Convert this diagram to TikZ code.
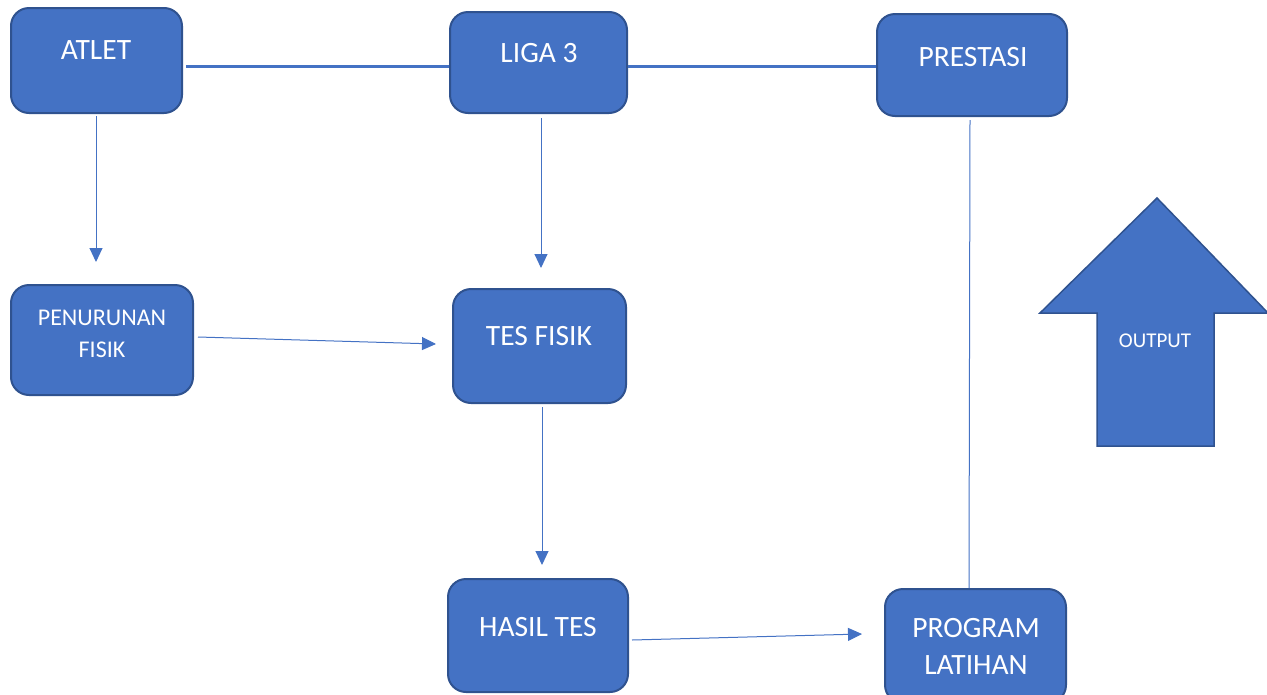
\documentclass[tikz,border=0pt]{standalone}
\usepackage{fontspec}
\setmainfont{Carlito}
\usetikzlibrary{arrows.meta}
\definecolor{accent}{HTML}{4472C4}
\definecolor{edgeblue}{HTML}{2F528F}
\tikzset{
  box/.style={draw=edgeblue, line width=2pt, fill=accent, rounded corners=18pt, inner sep=0pt},
  lbl/.style={text=white, font=\fontsize{29.5}{36}\selectfont, inner sep=0pt},
  lblsmall/.style={text=white, font=\fontsize{24}{32}\selectfont, inner sep=0pt, align=center},
  thickline/.style={draw=accent, line width=3pt},
  thinarrow/.style={draw=accent, line width=1pt, -{Triangle[length=14pt,width=13pt]}},
  thinline/.style={draw=accent, line width=1pt},
}
\begin{document}
\begin{tikzpicture}[x=1pt, y=-1pt]
\useasboundingbox (0,0) rectangle (1267,694);
% boxes
\node[box, minimum width=171pt, minimum height=105pt] (atlet) at (96.5,60.5) {};
\node[box, minimum width=177pt, minimum height=101pt] (liga) at (538.5,62.5) {};
\node[box, minimum width=190pt, minimum height=102pt] (prestasi) at (972,65) {};
\node[box, minimum width=182pt, minimum height=110pt] (penurunan) at (102,340) {};
\node[box, minimum width=173pt, minimum height=114pt] (tes) at (539.5,346) {};
\node[box, minimum width=180pt, minimum height=113pt] (hasil) at (538,635.5) {};
\node[box, minimum width=181pt, minimum height=114pt] (program) at (975.5,646) {};
% texts
\node[lbl] (tatlet) at (96,50) {ATLET};
\node[lbl] (tliga) at (539,53) {LIGA 3};
\node[lbl] (tprestasi) at (973,57) {PRESTASI};
\node[lblsmall] (tpenurunan) at (102,334) {PENURUNAN\\FISIK};
\node[lbl] (ttes) at (539,336) {TES FISIK};
\node[lbl] (thasil) at (538,627) {HASIL TES};
\node[lbl, align=center, font=\fontsize{29.5}{37}\selectfont] (tprogram) at (976,646) {PROGRAM\\LATIHAN};
% big arrow
\filldraw[fill=accent, draw=edgeblue, line width=1.5pt]
  (1157,198) -- (1268,313) -- (1214,313) -- (1214,446) -- (1097,446) -- (1097,313) -- (1040,313) -- cycle;
\node[text=white, font=\fontsize{21}{24}\selectfont, inner sep=0pt] (toutput) at (1155,341) {OUTPUT};
% free ends
\coordinate (a1s) at (96,116);
\coordinate (a1e) at (96,262);
\coordinate (l1s) at (541,118);
\coordinate (l1e) at (541,268);
\coordinate (p1s) at (198,337);
\coordinate (p1e) at (436,344);
\coordinate (t1s) at (542,407);
\coordinate (t1e) at (542,565);
\coordinate (h1s) at (632,640);
\coordinate (h1e) at (862,634);
\coordinate (r1s) at (970,120);
\coordinate (r1e) at (969,588);
% connectors
\draw[thickline] (atlet.east |- 0,66) ++(3,0) -- (liga.west |- 0,66);
\draw[thickline] (liga.east |- 0,66) -- (prestasi.west |- 0,66);
\draw[thinarrow] (a1s) -- (a1e);
\draw[thinarrow] (l1s) -- (l1e);
\draw[thinarrow] (p1s) -- (p1e);
\draw[thinarrow] (t1s) -- (t1e);
\draw[thinarrow] (h1s) -- (h1e);
\draw[thinline] (r1s) -- (r1e);
\end{tikzpicture}
\end{document}
